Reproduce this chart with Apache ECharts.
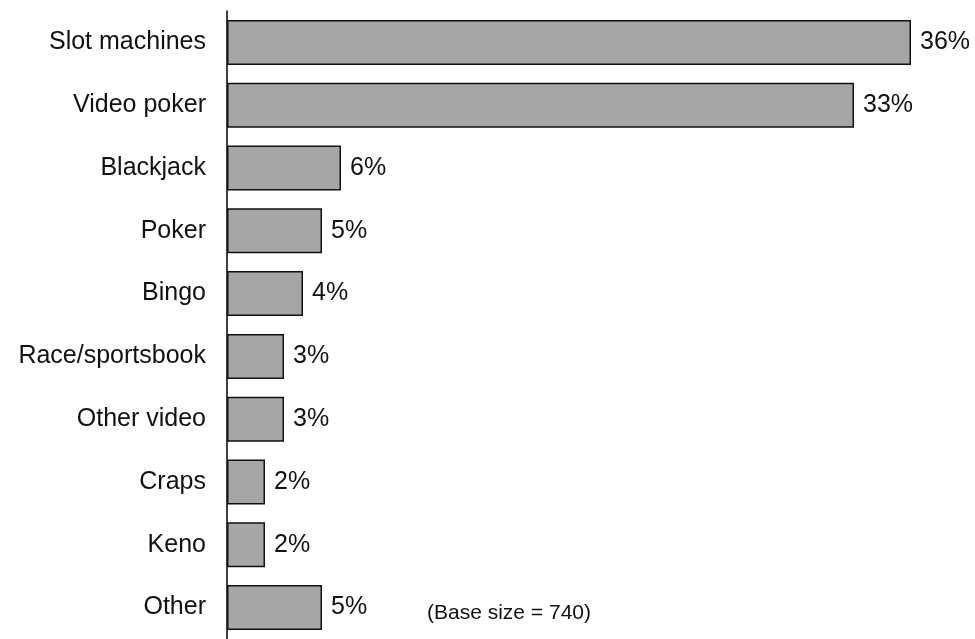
<!DOCTYPE html>
<html>
<head>
<meta charset="utf-8">
<script src="https://cdn.jsdelivr.net/npm/echarts@6/dist/echarts.min.js"></script>
<style>
  html, body { margin: 0; padding: 0; background: #fff; }
  #chart { width: 975px; height: 639px; }
</style>
</head>
<body>
<div id="chart"></div>
<script>
// Share of gambling activity by game type
const categories = ['Slot machines', 'Video poker', 'Blackjack', 'Poker', 'Bingo',
  'Race/sportsbook', 'Other video', 'Craps', 'Keno', 'Other'];
const shares = [36, 33, 6, 5, 4, 3, 3, 2, 2, 5];
const baseNote = '(Base size = 740)';

const FONT = 'Liberation Sans, Arial, Helvetica, sans-serif';
const chart = echarts.init(document.getElementById('chart'), null, { renderer: 'canvas' });

chart.setOption({
  animation: false,
  backgroundColor: '#ffffff',
  grid: { left: 227, top: 11, width: 684, height: 632, containLabel: false },
  xAxis: {
    type: 'value', min: 0, max: 36,
    show: false
  },
  yAxis: {
    type: 'category',
    data: categories,
    inverse: true,
    axisLine: { show: true, lineStyle: { color: '#000', width: 1.5 } },
    axisTick: { show: false },
    axisLabel: { color: '#111', fontFamily: FONT, fontSize: 25, margin: 21 }
  },
  series: [{
    type: 'bar',
    data: shares,
    barWidth: 45,
    itemStyle: { color: '#a6a6a6', borderColor: '#111', borderWidth: 1.5 },
    label: {
      show: true, position: 'right', distance: 9,
      formatter: p => p.value + '%',
      color: '#111', fontFamily: FONT, fontSize: 25
    }
  }],
  graphic: [{
    type: 'text', left: 427, top: 603,
    style: { text: baseNote, fill: '#111', font: '21px ' + FONT }
  }]
});
</script>
</body>
</html>
